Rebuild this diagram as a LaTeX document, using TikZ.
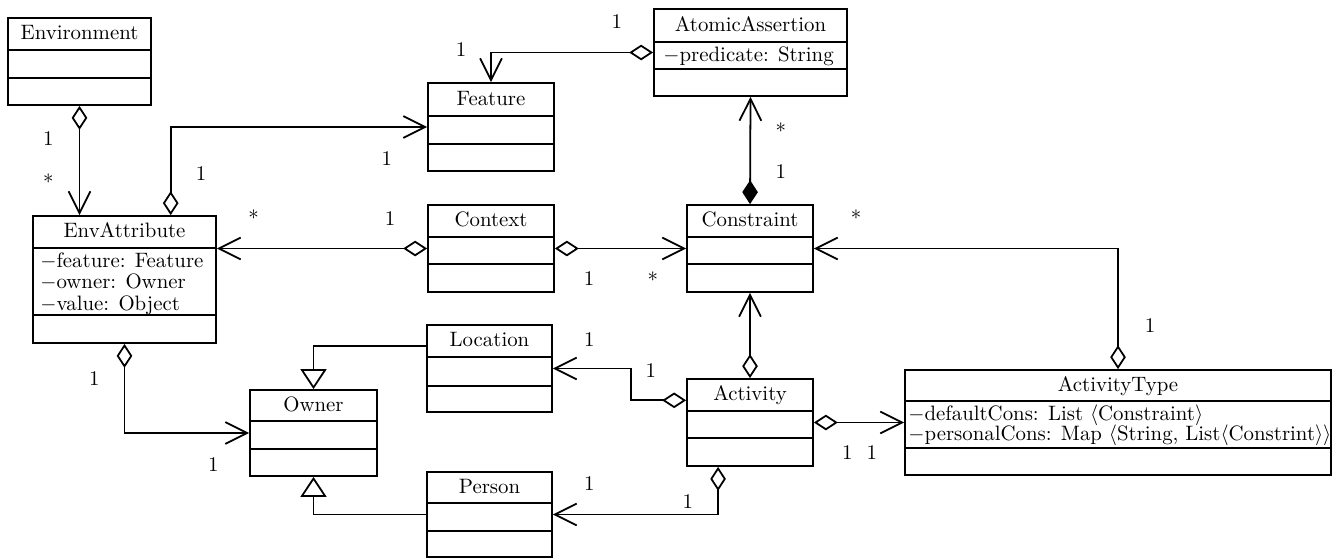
\documentclass[tikz,border=0pt]{standalone}
\usetikzlibrary{arrows.meta,calc}

\tikzset{
  uml/.style={line width=0.85pt},
  classbox/.style={draw, uml, inner sep=0pt},
  classtitle/.style={inner sep=0pt, text height=1.5ex, text depth=.25ex},
  attr/.style={anchor=base west, inner sep=0pt},
  attrs/.style={anchor=north west, inner sep=0pt, align=left},
  mult/.style={inner sep=0pt},
  openhead/.tip={Straight Barb[length=10.5pt, width=10.5pt]},
  agg/.style={uml, {Diamond[open, length=11.5pt, width=7.5pt]}-openhead},
  comp/.style={uml, {Diamond[length=11.5pt, width=7.5pt]}-openhead},
  gen/.style={uml, -{Triangle[open, length=9.6pt, width=12.5pt]}},
}

% class box: name, x1, y1, x2, y2, first divider, second divider, title
\newcommand\umlclass[8]{%
  \node[classbox, minimum width={(#4-#2)*0.48pt}, minimum height={(#5-#3)*0.48pt}]
    (#1) at ({(#2+#4)/2},{(#3+#5)/2}) {};
  \draw[uml] (#2,#6) -- (#4,#6) (#2,#7) -- (#4,#7);
  \node[classtitle] (#1-t) at ({(#2+#4)/2},{(#3+#6)/2}) {#8};
}

\begin{document}
\begin{tikzpicture}[x=0.48pt, y=-0.48pt]
\useasboundingbox (0,0) rectangle (1338,558);

% classes
\umlclass{env}{8}{18}{151}{105}{50}{78}{Environment}
\umlclass{feature}{428}{83}{554}{171}{116}{144}{Feature}
\umlclass{aa}{654}{9}{847}{96}{42}{69}{AtomicAssertion}
\umlclass{envattr}{33}{216}{216}{343}{248}{315}{EnvAttribute}
\umlclass{ctx}{428}{205}{554}{292}{237}{264}{Context}
\umlclass{constraint}{687}{205}{813}{292}{237}{264}{Constraint}
\umlclass{location}{427}{325}{552}{412}{357}{386}{Location}
\umlclass{owner}{250}{390}{377}{476}{421}{449}{Owner}
\umlclass{person}{427}{472}{552}{557}{503}{531}{Person}
\umlclass{activity}{687}{379}{813}{466}{411}{438}{Activity}
\umlclass{atype}{905}{370}{1331}{475}{401}{448}{ActivityType}

% attributes
\node[attr] (aa-a) at (663,61.5) {$-$predicate: String};
\node[attrs] (ea-a) at (40,252.5) {$-$feature: Feature\\[-1.8pt]
  $-$owner: Owner\\[-1.8pt]
  $-$value: Object};
\node[attrs] (at-a) at (908,404.4) {$-$defaultCons: List $\langle$Constraint$\rangle$\\[-2.4pt]
  $-$personalCons: Map $\langle$String, List$\langle$Constrint$\rangle\rangle$};

% attachment points away from the box centres
\coordinate (eaTop) at ($(envattr.north west)!0.75!(envattr.north east)$);
\coordinate (actW) at ($(activity.north west)!0.25!(activity.south west)$);
\coordinate (actS) at ($(activity.south west)!0.25!(activity.south east)$);
\coordinate (locW) at ($(location.north west)!0.25!(location.south west)$);

% associations
\draw[agg] (env.south) -- (env.south |- envattr.north);
\draw[agg] (eaTop) |- (feature.west);
\draw[agg] (aa.west) -| (feature.north);
\draw[comp] (constraint.north) -- (aa.south);
\draw[agg] (ctx.west) -- (ctx.west -| envattr.east);
\draw[agg] (ctx.east) -- (constraint.west);
\draw[agg] (atype.north) |- (constraint.east);
\draw[agg] (activity.north) -- (constraint.south);
\draw[agg] (actW) -- ++(-55.3,0) |- (location.east);
\draw[agg] (activity.east) -- (activity.east -| atype.west);
\draw[agg] (actS) |- (person.east);
\draw[agg] (envattr.south) |- (owner.west);

% generalisations
\draw[gen] (locW) -| (owner.north);
\draw[gen] (person.west) -| (owner.south);

% multiplicities
\node[mult] (m1) at (48.3,138.3) {1};
\node[mult] (m2) at (48.3,181.6) {*};
\node[mult] (m3) at (201,174) {1};
\node[mult] (m4) at (386.7,158.3) {1};
\node[mult] (m5) at (616.7,21.7) {1};
\node[mult] (m6) at (461,49.3) {1};
\node[mult] (m7) at (780.7,131) {*};
\node[mult] (m8) at (780.7,171.7) {1};
\node[mult] (m9) at (253.7,217.6) {*};
\node[mult] (m10) at (390,218.3) {1};
\node[mult] (m11) at (589,278.3) {1};
\node[mult] (m12) at (652.7,279.3) {*};
\node[mult] (m13) at (856,217.3) {*};
\node[mult] (m14) at (1150,326) {1};
\node[mult] (m15) at (589.3,340) {1};
\node[mult] (m16) at (650.7,370.7) {1};
\node[mult] (m17) at (847.3,452.7) {1};
\node[mult] (m18) at (871.7,452.7) {1};
\node[mult] (m19) at (589.3,483.3) {1};
\node[mult] (m20) at (687.7,501.7) {1};
\node[mult] (m21) at (94.3,378.3) {1};
\node[mult] (m22) at (213.3,464.3) {1};
\end{tikzpicture}
\end{document}
